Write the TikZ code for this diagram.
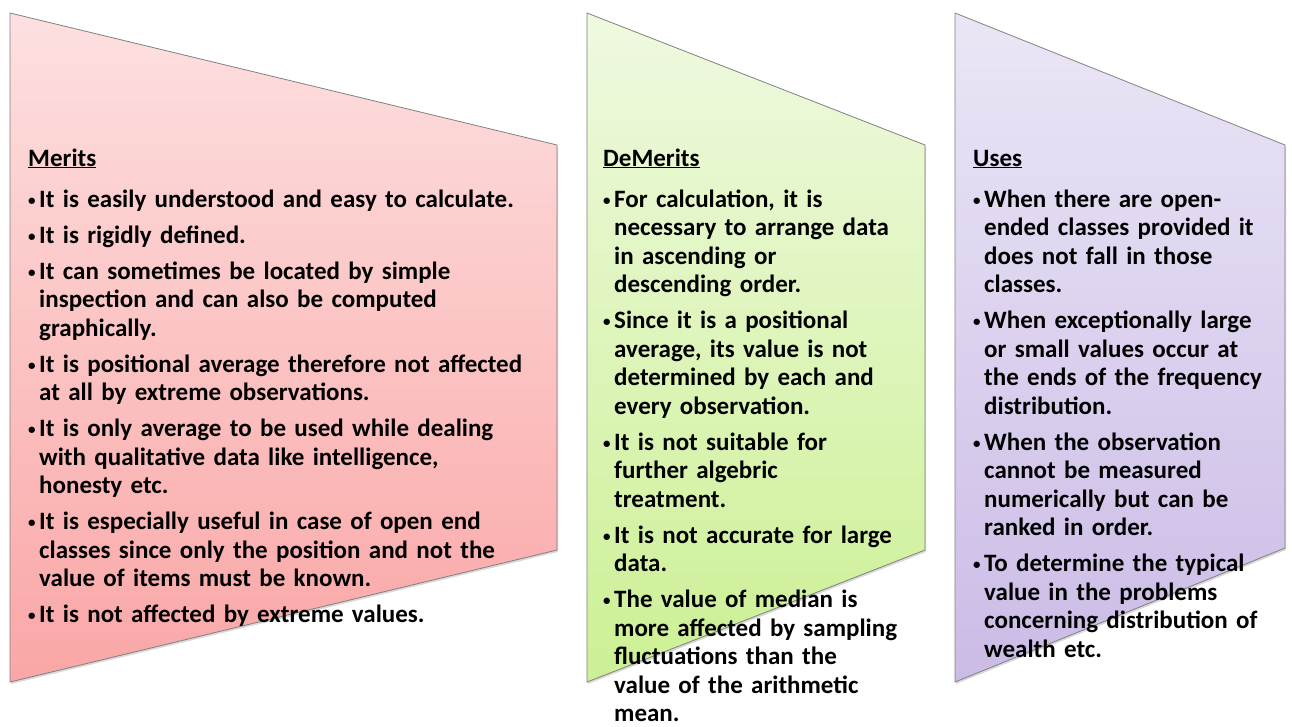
\documentclass[tikz,border=0pt]{standalone}
\usepackage{fontspec}
\setmainfont{Carlito}[BoldFont={Carlito Bold}]
\usetikzlibrary{shadows}

\definecolor{meritTop}{RGB}{253,224,224}
\definecolor{meritBot}{RGB}{250,166,166}
\definecolor{demeritTop}{RGB}{239,249,224}
\definecolor{demeritBot}{RGB}{204,240,148}
\definecolor{usesTop}{RGB}{235,230,246}
\definecolor{usesBot}{RGB}{203,187,230}
\definecolor{edgegray}{RGB}{128,128,128}

\newcommand{\heading}[1]{\underline{#1}\par\vspace{5pt}}
\newcommand{\bul}[1]{\hangindent=11pt\hangafter=1\noindent
  \makebox[11pt][l]{\raisebox{2pt}{\scalebox{0.6}{\textbullet}}}#1\par}

\begin{document}
\begin{tikzpicture}[x=1pt,y=-1pt,
      panel/.style={draw=edgegray,line width=0.8pt,
        drop shadow={shadow xshift=1pt,shadow yshift=-2pt,opacity=0.3}},
      list/.style={anchor=base west,inner sep=0pt,align=left,
        font=\fontsize{25}{28.5}\selectfont\bfseries\setlength{\parskip}{7.5pt}}]
    \useasboundingbox (0,0) rectangle (1292,726);
    % the three panels
    \path[panel,top color=meritTop,bottom color=meritBot]
      (10,13) -- (557,145) -- (557,550) -- (10,682) -- cycle;
    \path[panel,top color=demeritTop,bottom color=demeritBot]
      (587,13) -- (925,145) -- (925,550) -- (587,682) -- cycle;
    \path[panel,top color=usesTop,bottom color=usesBot]
      (955,13) -- (1285,145) -- (1285,548) -- (955,682) -- cycle;
    % texts
    \node (merits) [list,text width=530pt] at (28,166) {\heading{Merits}%
      \bul{It is easily understood and easy to calculate.}%
      \bul{It is rigidly defined.}%
      \bul{It can sometimes be located by simple\newline inspection and can also be computed\newline graphically.}%
      \bul{It is positional average therefore not affected\newline at all by extreme observations.}%
      \bul{It is only average to be used while dealing\newline with qualitative data like intelligence,\newline honesty etc.}%
      \bul{It is especially useful in case of open end\newline classes since only the position and not the\newline value of items must be known.}%
      \bul{It is not affected by extreme values.}};
    \node (demerits) [list,text width=320pt] at (603,166) {\heading{DeMerits}%
      \bul{For calculation, it is\newline necessary to arrange data\newline in ascending or\newline descending order.}%
      \bul{Since it is a positional\newline average, its value is not\newline determined by each and\newline every observation.}%
      \bul{It is not suitable for\newline further algebric\newline treatment.}%
      \bul{It is not accurate for large\newline data.}%
      \bul{The value of median is\newline more affected by sampling\newline fluctuations than the\newline value of the arithmetic\newline mean.}};
    \node (uses) [list,text width=315pt] at (973,166) {\heading{Uses}%
      \bul{When there are open-\newline ended classes provided it\newline does not fall in those\newline classes.}%
      \bul{When exceptionally large\newline or small values occur at\newline the ends of the frequency\newline distribution.}%
      \bul{When the observation\newline cannot be measured\newline numerically but can be\newline ranked in order.}%
      \bul{To determine the typical\newline value in the problems\newline concerning distribution of\newline wealth etc.}};
\end{tikzpicture}
\end{document}
